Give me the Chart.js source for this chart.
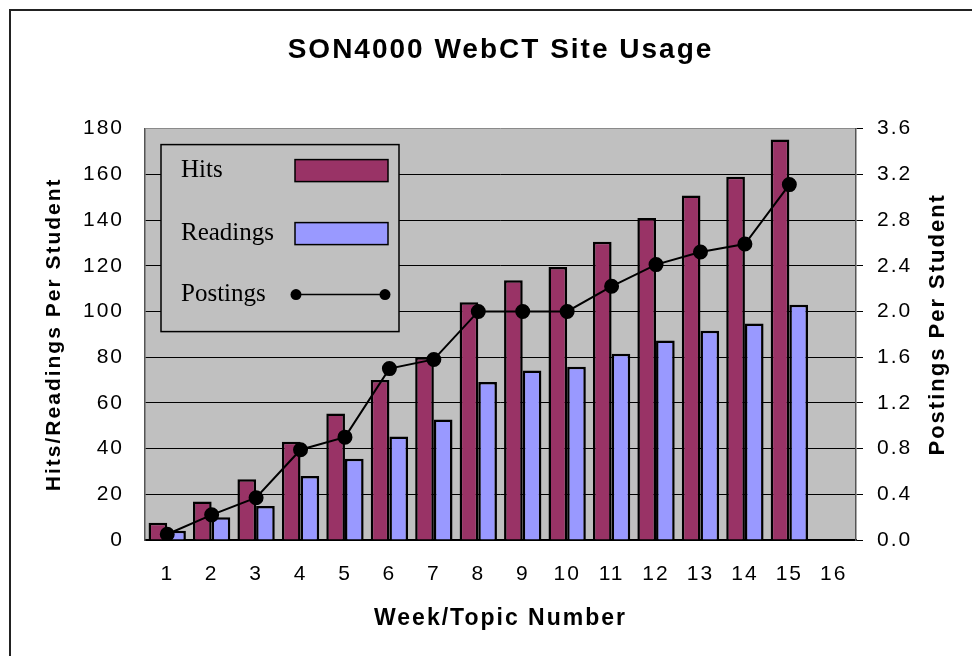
<!DOCTYPE html>
<html>
<head>
<meta charset="utf-8">
<script src="https://cdn.jsdelivr.net/npm/chart.js@4.4.1/dist/chart.umd.min.js"></script>
<style>
  body { margin: 0; background: #fff; }
  canvas { display: block; }
</style>
</head>
<body>
<canvas id="usage_canvas" width="972" height="656"></canvas>
<script>
// values
const weeks = ['1', '2', '3', '4', '5', '6', '7', '8', '9', '10', '11', '12', '13', '14', '15', '16'];
const hits = [7.5, 16.8, 26.6, 43, 55.3, 70, 80, 104, 113.6, 119.4, 130.5, 140.9, 150.7, 158.9, 175.2, null];
const readings = [4.1, 9.9, 14.9, 28, 35.5, 45.3, 52.7, 69.1, 74.2, 75.8, 81.5, 87.3, 91.5, 94.7, 102.9, null];
const postings = [0.05, 0.22, 0.37, 0.79, 0.9, 1.5, 1.58, 2.0, 2.0, 2.0, 2.22, 2.41, 2.52, 2.59, 3.11, null];

const sans = "'Liberation Sans', Arial, sans-serif";
const serif = "'Liberation Serif', 'Times New Roman', serif";
const rightTitle = 'Postings Per Student';

// the old excel look has slightly spaced lettering
const spacing = {
  id: 'spacing',
  beforeUpdate(chart) { chart.ctx.letterSpacing = '2px'; },
  beforeDraw(chart) {
    const c = chart.ctx;
    c.letterSpacing = '2px';
    // outer frame, open on the right and bottom
    c.save();
    c.fillStyle = '#fff';
    c.fillRect(0, 0, chart.width, chart.height);
    c.strokeStyle = '#222';
    c.lineWidth = 2;
    c.strokeRect(10, 10, 1000, 1000);
    // grey plot area
    const a = chart.chartArea;
    c.fillStyle = '#C0C0C0';
    c.fillRect(a.left, a.top, a.right - a.left, a.bottom - a.top);
    c.restore();
  }
};

// right axis title reads bottom to top, like the left one
const rightAxisTitle = {
  id: 'rightAxisTitle',
  afterDraw(chart) {
    const c = chart.ctx;
    const a = chart.chartArea;
    c.save();
    c.translate(938, (a.top + a.bottom) / 2 - 10);
    c.rotate(-Math.PI / 2);
    c.font = 'bold 22px ' + sans;
    c.fillStyle = '#000';
    c.textAlign = 'center';
    c.textBaseline = 'middle';
    c.fillText(rightTitle, 0, 0);
    c.restore();
  }
};

// legend box sitting inside the plot area
const boxLegend = {
  id: 'boxLegend',
  afterDraw(chart) {
    const c = chart.ctx;
    const a = chart.chartArea;
    const x = a.left + 16, y = a.top + 16, w = 238, h = 187;
    c.save();
    c.fillStyle = '#C0C0C0';
    c.fillRect(x, y, w, h);
    c.strokeStyle = '#000';
    c.lineWidth = 1.5;
    c.strokeRect(x, y, w, h);
    c.font = '25px ' + serif;
    c.textBaseline = 'middle';
    c.letterSpacing = '0px';
    const rows = [26, 89, 150];
    chart.data.datasets.forEach((ds, i) => {
      const cy = y + rows[i];
      c.fillStyle = '#000';
      c.fillText(ds.label, x + 20, cy);
      if (ds.type === 'line') {
        c.strokeStyle = '#000';
        c.lineWidth = 1.5;
        c.beginPath();
        c.moveTo(x + 135, cy);
        c.lineTo(x + 224, cy);
        c.stroke();
        [x + 135, x + 224].forEach(px => {
          c.beginPath();
          c.arc(px, cy, 5.5, 0, Math.PI * 2);
          c.fill();
        });
      } else {
        c.fillStyle = ds.backgroundColor;
        c.fillRect(x + 134, cy - 11, 93, 22);
        c.lineWidth = 1.5;
        c.strokeRect(x + 134, cy - 11, 93, 22);
      }
    });
    c.restore();
  }
};

const ctx = document.getElementById('usage_canvas');

new Chart(ctx, {
  data: {
    labels: weeks,
    datasets: [
      {
        type: 'bar',
        label: 'Hits',
        data: hits,
        backgroundColor: '#993366',
        borderColor: '#000',
        borderWidth: 2.5,
        categoryPercentage: 0.84,
        barPercentage: 1,
        yAxisID: 'y',
        order: 2
      },
      {
        type: 'bar',
        label: 'Readings',
        data: readings,
        backgroundColor: '#9999FF',
        borderColor: '#000',
        borderWidth: 2.5,
        categoryPercentage: 0.84,
        barPercentage: 1,
        yAxisID: 'y',
        order: 2
      },
      {
        type: 'line',
        label: 'Postings',
        data: postings,
        borderColor: '#000',
        borderWidth: 2,
        pointRadius: 6.5,
        pointBackgroundColor: '#000',
        pointBorderColor: '#000',
        yAxisID: 'y1',
        order: 1
      }
    ]
  },
  options: {
    responsive: false,
    animation: false,
    devicePixelRatio: 1,
    layout: { padding: 0 },
    plugins: {
      legend: { display: false },
      tooltip: { enabled: false },
      title: {
        display: true,
        fullSize: false,
        text: 'SON4000 WebCT Site Usage',
        color: '#000',
        font: { family: sans, size: 28, weight: 'bold' },
        padding: { top: 33, bottom: 62 }
      }
    },
    scales: {
      x: {
        grid: { display: false, drawTicks: false },
        border: { color: '#000', width: 2 },
        ticks: {
          color: '#000',
          padding: 22,
          font: { family: sans, size: 21 }
        },
        title: {
          display: true,
          text: 'Week/Topic Number',
          color: '#000',
          font: { family: sans, size: 23, weight: 'bold' },
          padding: { top: 0, bottom: 24 }
        },
        afterFit(scale) { scale.height = 116; }
      },
      y: {
        position: 'left',
        min: 0,
        max: 180,
        grid: {
          drawTicks: false,
          color: c => (c.tick && c.tick.value === 180 ? '#8a8a8a' : '#000'),
          lineWidth: 1
        },
        border: { color: '#555', width: 1.5 },
        ticks: {
          stepSize: 20,
          color: '#000',
          padding: 21,
          font: { family: sans, size: 21 }
        },
        title: {
          display: true,
          text: 'Hits/Readings Per Student',
          color: '#000',
          font: { family: sans, size: 21, weight: 'bold' },
          padding: { top: 42, bottom: 0 }
        },
        afterFit(scale) { scale.width = 145; }
      },
      y1: {
        position: 'right',
        min: 0,
        max: 3.6,
        grid: {
          drawOnChartArea: false,
          drawTicks: true,
          tickLength: 7,
          color: '#000'
        },
        border: { color: '#555', width: 1.5 },
        ticks: {
          stepSize: 0.4,
          color: '#000',
          padding: 14,
          font: { family: sans, size: 21 },
          callback: v => Number(v).toFixed(1)
        },
        afterFit(scale) { scale.width = 116; }
      }
    }
  },
  plugins: [spacing, rightAxisTitle, boxLegend]
});
</script>
</body>
</html>
